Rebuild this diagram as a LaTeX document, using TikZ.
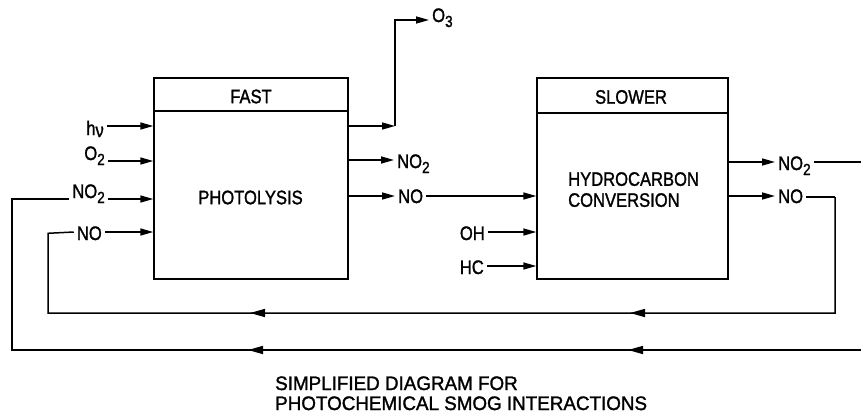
\documentclass[tikz,border=0pt]{standalone}
\usepackage{graphicx}
\usepackage{fontspec}
\setmainfont{Liberation Sans}[FakeBold=1.5]
\usetikzlibrary{arrows.meta,decorations.markings}
\newcommand{\sbs}[1]{\raisebox{-5pt}{\fontsize{16}{16}\selectfont #1}}
\newcommand{\nr}[1]{\scalebox{0.85}[1]{#1}}
\newcommand{\cnr}[1]{\scalebox{0.965}[1]{#1}}
\begin{document}
\begin{tikzpicture}[x=1pt,y=-1pt,
  ln/.style={line width=1.5pt},
  arr/.style={ln,-{Triangle[length=13pt,width=7pt]}},
  box/.style={draw,line width=1.4pt,inner sep=0pt},
  lbl/.style={inner xsep=3pt,inner ysep=0pt,font=\fontsize{19.5}{22}\selectfont},
  txt/.style={inner sep=0pt,font=\fontsize{19.5}{21}\selectfont},
  marks/.style 2 args={postaction={decorate},decoration={markings,
    mark=at position #1 with {\arrow{Triangle[length=15pt,width=8pt]}},
    mark=at position #2 with {\arrow{Triangle[length=15pt,width=8pt]}}}}
]
\useasboundingbox (0,0) rectangle (861,415);

% boxes
\node[box,minimum width=194pt,minimum height=201pt] (b1) at (251,178.5) {};
\node[box,minimum width=191pt,minimum height=201pt] (b2) at (632.5,178.5) {};
\draw[line width=1.4pt] (b1.west |- 0,111) -- (b1.east |- 0,111);
\draw[line width=1.4pt] (b2.west |- 0,113) -- (b2.east |- 0,113);

\node[txt] (fast) at (251,96.5) {\nr{FAST}};
\node[txt] (slower) at (631,97) {\nr{SLOWER}};
\node[txt] (photo) at (250.5,197.5) {\nr{PHOTOLYSIS}};
\node[txt,align=left,anchor=north west] (hydro) at (568,172) {\nr{HYDROCARBON}\\\nr{CONVERSION}};

% inputs box 1
\node[lbl,anchor=base east] (hv) at (107,135) {\nr{h\raisebox{-2pt}{ν}}};
\node[lbl,anchor=base east] (o2) at (108,160) {\nr{O\sbs{2}}};
\node[lbl,anchor=base east] (no2a) at (108,198) {\nr{NO\sbs{2}}};
\node[lbl,anchor=base east] (noa) at (105,240) {\nr{NO}};
\draw[arr] (hv.east |- 0,126) -- (b1.west |- 0,126);
\draw[arr] (o2.east |- 0,161) -- (b1.west |- 0,161);
\draw[arr] (no2a.east |- 0,199) -- (b1.west |- 0,199);
\draw[arr] (noa.east |- 0,232) -- (b1.west |- 0,232);

% outputs box 1
\coordinate (o3c) at (395,126);
\node[lbl,anchor=base west] (o3) at (429,22) {\nr{O\sbs{3}}};
\draw[arr] (b1.east |- o3c) -- (o3c);
\draw[arr] (o3c) -- (o3c |- 0,20) -- (o3.west |- 0,20);
\node[lbl,anchor=base west] (no2b) at (394,168) {\nr{NO\sbs{2}}};
\draw[arr] (b1.east |- 0,160) -- (no2b.west |- 0,160);
\node[lbl,anchor=base west] (nob) at (395,203) {\nr{NO}};
\draw[arr] (b1.east |- 0,196) -- (nob.west |- 0,196);
\draw[arr] (nob.east |- 0,196) -- (b2.west |- 0,196);

% inputs box 2
\node[lbl,anchor=base east] (oh) at (488,240) {\nr{OH}};
\node[lbl,anchor=base east] (hc) at (487,274) {\nr{HC}};
\draw[arr] (oh.east |- 0,232) -- (b2.west |- 0,232);
\draw[arr] (hc.east |- 0,266) -- (b2.west |- 0,266);

% outputs box 2
\node[lbl,anchor=base west] (no2c) at (775,170) {\nr{NO\sbs{2}}};
\node[lbl,anchor=base west] (noc) at (775,203) {\nr{NO}};
\draw[arr] (b2.east |- 0,162) -- (no2c.west |- 0,162);
\draw[arr] (b2.east |- 0,196) -- (noc.west |- 0,196);
\coordinate (re1) at (861,162);
\draw[ln] (no2c.east |- re1) -- (re1);

% feedback loops
\coordinate (c1) at (835,197);
\coordinate (c2) at (835,313);
\coordinate (c3) at (48,313);
\draw[ln] (noc.east |- c1) -- (c1);
\draw[ln,marks={321pt}{701pt}] (c1) -- (c2) -- (c3) -- (c3 |- noa.west) -- (noa.west |- 0,232);

\coordinate (r1) at (861,350);
\coordinate (r2) at (12,350);
\draw[ln,marks={233pt}{613pt}] (r1) -- (r2) -- (r2 |- 0,199) -- (no2a.west |- 0,199);

% caption
\node[txt,anchor=base west] (cap1) at (275,390) {\cnr{SIMPLIFIED DIAGRAM FOR}};
\node[txt,anchor=base west] (cap2) at (275,410) {\cnr{PHOTOCHEMICAL SMOG INTERACTIONS}};
\end{tikzpicture}
\end{document}
